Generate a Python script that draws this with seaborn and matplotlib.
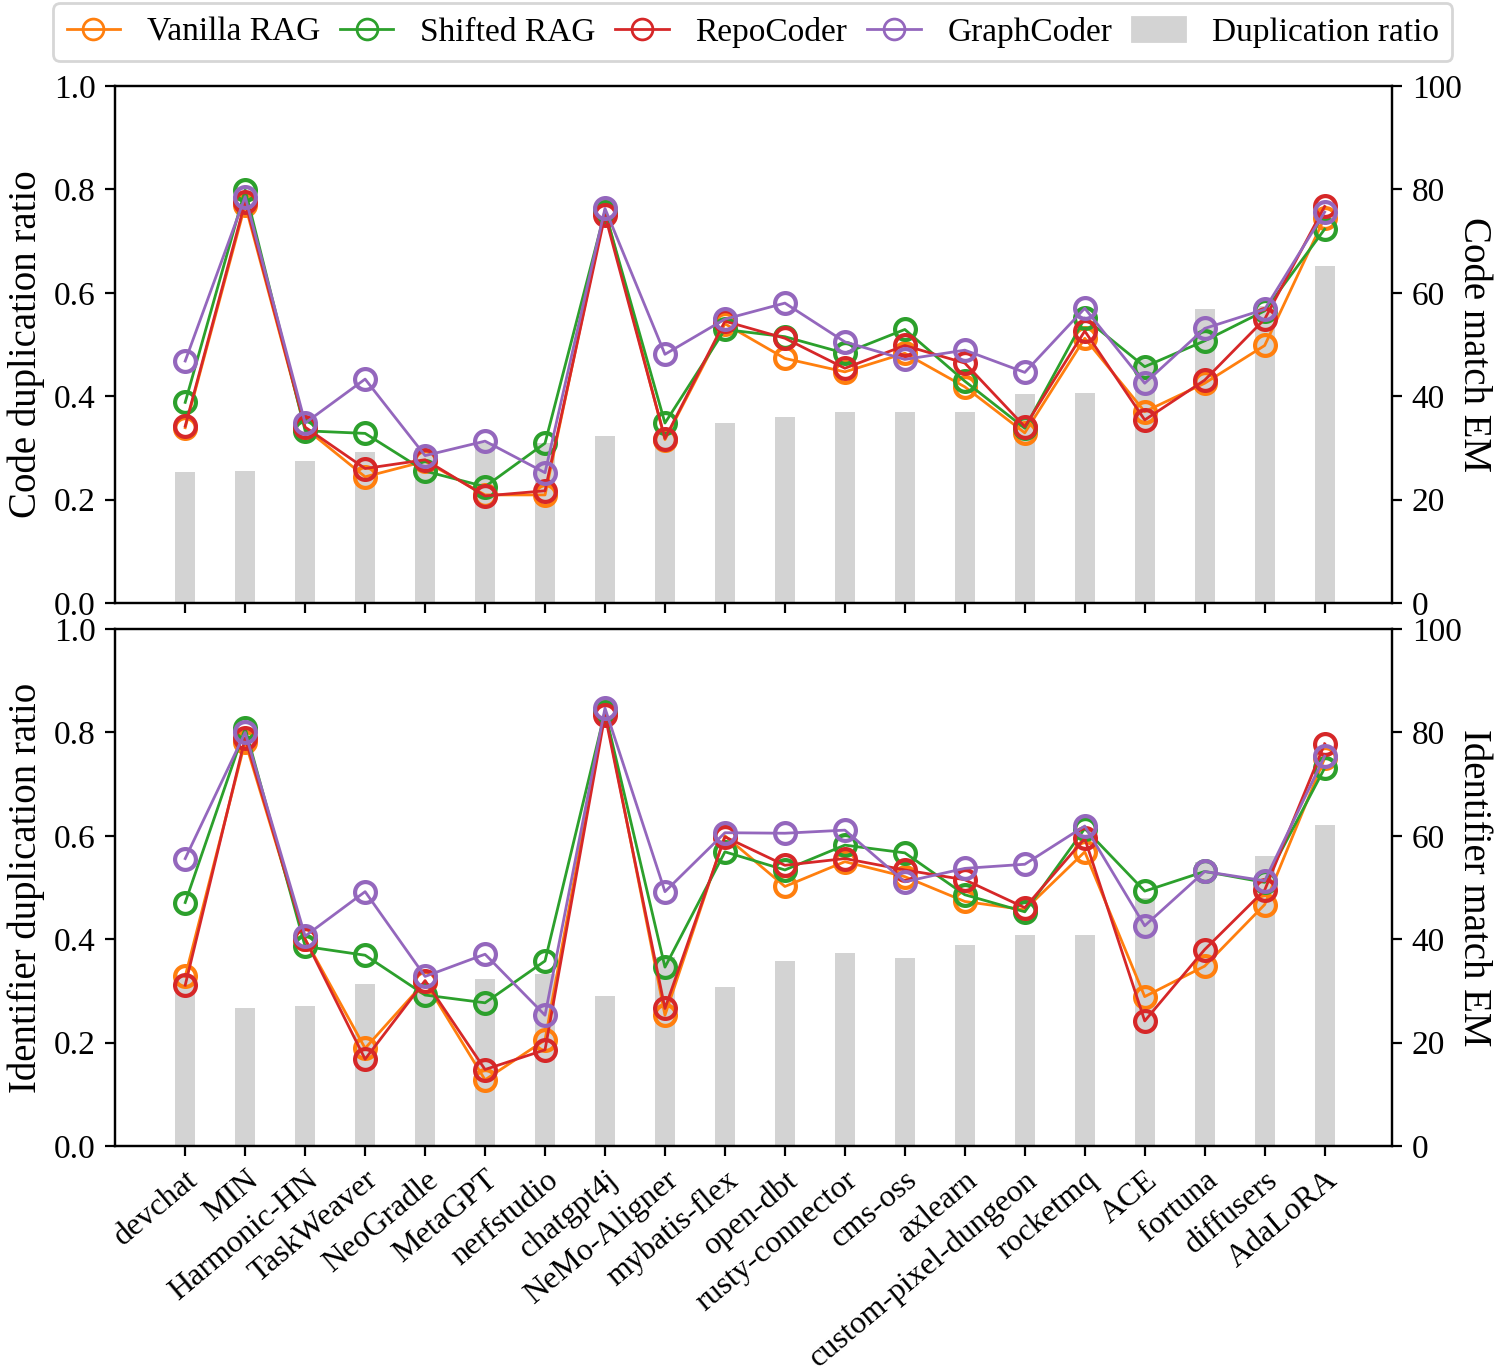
"""Duplication ratio vs. exact match per repository (code / identifier)."""
import matplotlib
matplotlib.use("Agg")
import matplotlib.pyplot as plt
import matplotlib.patches as mpatches
from matplotlib.lines import Line2D
import seaborn as sns

plt.rcParams["font.family"] = ["Liberation Serif", "DejaVu Serif"]
plt.rcParams["mathtext.fontset"] = "stix"

repos = ["devchat", "MIN", "Harmonic-HN", "TaskWeaver", "NeoGradle", "MetaGPT",
         "nerfstudio", "chatgpt4j", "NeMo-Aligner", "mybatis-flex", "open-dbt",
         "rusty-connector", "cms-oss", "axlearn", "custom-pixel-dungeon",
         "rocketmq", "ACE", "fortuna", "diffusers", "AdaLoRA"]

# code completion
code_dup = [0.253, 0.255, 0.275, 0.292, 0.300, 0.309, 0.310, 0.323, 0.335, 0.348,
            0.360, 0.369, 0.369, 0.370, 0.404, 0.406, 0.470, 0.569, 0.575, 0.652]
code_vanilla = [33.9, 77.0, 33.8, 24.4, 27.4, 20.9, 20.9, 76.0, 31.6, 54.0,
                47.3, 44.7, 48.3, 41.8, 32.9, 51.2, 37.0, 42.5, 49.8, 74.5]
code_shifted = [38.8, 79.9, 33.3, 32.8, 25.5, 22.5, 30.9, 75.7, 34.8, 52.9,
                51.5, 48.3, 52.9, 42.9, 33.8, 55.1, 45.7, 50.7, 56.5, 72.3]
code_repocoder = [34.2, 77.6, 34.0, 26.0, 27.7, 20.7, 21.7, 75.0, 31.8, 54.5,
                  51.2, 45.4, 49.8, 46.4, 34.1, 52.6, 35.4, 43.1, 54.9, 76.7]
code_graphcoder = [46.8, 78.6, 34.8, 43.3, 28.5, 31.3, 25.2, 76.3, 48.1, 54.9,
                   58.0, 50.5, 47.1, 48.9, 44.6, 57.0, 42.5, 53.1, 56.8, 75.6]

# identifier completion
ident_dup = [0.330, 0.267, 0.271, 0.314, 0.300, 0.323, 0.332, 0.290, 0.365, 0.308,
             0.358, 0.373, 0.363, 0.388, 0.408, 0.408, 0.480, 0.550, 0.560, 0.621]
ident_vanilla = [32.8, 78.2, 40.0, 18.9, 31.8, 12.8, 20.5, 84.2, 25.3, 60.0,
                 50.2, 55.0, 52.1, 47.3, 45.7, 56.9, 28.9, 34.8, 46.7, 75.0]
ident_shifted = [47.1, 80.8, 38.6, 36.9, 29.2, 27.7, 35.8, 84.0, 34.6, 56.9,
                 53.4, 58.2, 56.7, 48.6, 45.3, 61.4, 49.3, 53.1, 51.0, 73.1]
ident_repocoder = [31.1, 78.9, 40.0, 16.8, 32.0, 14.8, 18.6, 83.4, 26.6, 59.8,
                   54.3, 55.6, 53.4, 51.5, 46.1, 59.5, 24.2, 38.0, 49.5, 77.8]
ident_graphcoder = [55.6, 80.0, 40.6, 49.2, 32.8, 37.1, 25.3, 84.7, 49.2, 60.6,
                    60.5, 61.1, 51.1, 53.7, 54.5, 61.9, 42.6, 53.1, 51.3, 75.4]

methods = ["Vanilla RAG", "Shifted RAG", "RepoCoder", "GraphCoder"]
colors = ["tab:orange", "tab:green", "tab:red", "tab:purple"]
BAR_COLOR = "lightgray"

panels = [
    ("Code duplication ratio", "Code match EM", code_dup,
     [code_vanilla, code_shifted, code_repocoder, code_graphcoder]),
    ("Identifier duplication ratio", "Identifier match EM", ident_dup,
     [ident_vanilla, ident_shifted, ident_repocoder, ident_graphcoder]),
]

fig = plt.figure(figsize=(7.47, 6.855), dpi=200)
axes = [fig.add_axes([0.077, 0.5602, 0.855, 0.3771]),
        fig.add_axes([0.077, 0.1641, 0.855, 0.3771])]

idx = list(range(len(repos)))

for ax, (ylab, rlab, dup, series) in zip(axes, panels):
    sns.barplot(x=idx, y=dup, ax=ax, color=BAR_COLOR, width=0.33,
                saturation=1, native_scale=True)
    ax.set_ylim(0, 1.0)
    ax.set_yticks([0, 0.2, 0.4, 0.6, 0.8, 1.0])
    ax.set_ylabel(ylab, fontsize=14, labelpad=3)

    ax2 = ax.twinx()
    for vals, c in zip(series, colors):
        sns.lineplot(x=idx, y=vals, ax=ax2, color=c, linewidth=1.0,
                     marker="o", markersize=7.5, markerfacecolor="none",
                     markeredgecolor=c, markeredgewidth=1.5)
    ax2.set_ylim(0, 100)
    ax2.set_yticks([0, 20, 40, 60, 80, 100])
    ax2.set_ylabel(rlab, fontsize=14, rotation=270, labelpad=11)

    for a in (ax, ax2):
        a.set_xlim(-1.17, 20.13)
        a.tick_params(axis="y", labelsize=12)
    ax.set_xticks(idx)

axes[0].set_xticklabels([])
axes[1].set_xticklabels(repos, rotation=40, ha="right", rotation_mode="anchor",
                        fontsize=11.5)

handles = [Line2D([], [], color=c, linewidth=1.0, marker="o", markersize=7.5,
                  markerfacecolor="none", markeredgecolor=c, markeredgewidth=1.0)
           for c in colors]
handles.append(mpatches.Patch(color=BAR_COLOR))
fig.legend(handles, methods + ["Duplication ratio"], loc="upper center",
           bbox_to_anchor=(0.504, 1.0), ncol=5, fontsize=12, frameon=True,
           handlelength=1.6, handletextpad=0.8, columnspacing=0.6,
           borderaxespad=0.1)

fig.savefig("out.png", dpi=200)
